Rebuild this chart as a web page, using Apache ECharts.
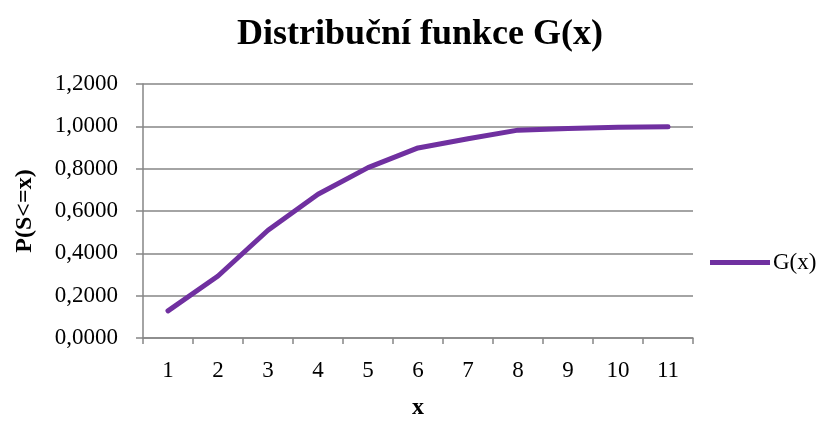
<!DOCTYPE html>
<html>
<head>
<meta charset="utf-8">
<script src="https://cdn.jsdelivr.net/npm/echarts@6/dist/echarts.min.js"></script>
<style>
  html, body { margin: 0; padding: 0; background: #fff; }
  #chart { width: 840px; height: 425px; }
</style>
</head>
<body>
<div id="chart"></div>
<script>
// Distribution function values G(x) for x = 1..11
const categories = ['1', '2', '3', '4', '5', '6', '7', '8', '9', '10', '11'];
const gValues = [0.128, 0.293, 0.509, 0.679, 0.805, 0.898, 0.941, 0.982, 0.990, 0.996, 0.998];
const seriesName = 'G(x)';
const yTicks = { min: 0, max: 1.2, interval: 0.2 };

const serif = '"Liberation Serif", "DejaVu Serif", serif';
const axisGray = '#868686';

const chart = echarts.init(document.getElementById('chart'), null, { renderer: 'canvas' });
chart.setOption({
  animation: false,
  backgroundColor: '#ffffff',
  title: {
    text: 'Distribuční funkce G(x)',
    left: 'center',
    top: 12,
    textStyle: { fontFamily: serif, fontWeight: 'bold', fontSize: 36, color: '#000' }
  },
  legend: {
    data: [{ name: seriesName, icon: 'rect' }],
    left: 705,
    top: 246,
    itemWidth: 60,
    itemHeight: 5,
    itemGap: 4,
    textStyle: { fontFamily: serif, fontSize: 23, color: '#000', padding: [0, 0, 0, -2] }
  },
  grid: { left: 143, right: 147, top: 84, bottom: 81, containLabel: false },
  xAxis: {
    type: 'category',
    data: categories,
    boundaryGap: true,
    name: 'x',
    nameLocation: 'middle',
    nameGap: 58,
    nameTextStyle: { fontFamily: serif, fontWeight: 'bold', fontSize: 24, color: '#000' },
    axisLine: { lineStyle: { color: axisGray, width: 1.5 } },
    axisTick: { show: true, alignWithLabel: false, length: 6, lineStyle: { color: axisGray, width: 1.5 } },
    axisLabel: { fontFamily: serif, fontSize: 23, color: '#000', margin: 21 },
    splitLine: { show: false }
  },
  yAxis: {
    type: 'value',
    min: yTicks.min,
    max: yTicks.max,
    interval: yTicks.interval,
    name: 'P(S<=x)',
    nameLocation: 'middle',
    nameGap: 106,
    nameTextStyle: { fontFamily: serif, fontWeight: 'bold', fontSize: 24, color: '#000' },
    axisLine: { show: true, lineStyle: { color: axisGray, width: 1.5 } },
    axisTick: { show: true, length: 7, lineStyle: { color: axisGray, width: 1.5 } },
    axisLabel: {
      fontFamily: serif, fontSize: 23, color: '#000', margin: 25,
      formatter: v => v.toFixed(4).replace('.', ',')
    },
    splitLine: { show: true, lineStyle: { color: axisGray, width: 1.5 } }
  },
  series: [{
    name: seriesName,
    type: 'line',
    data: gValues,
    showSymbol: false,
    symbol: 'none',
    itemStyle: { color: '#7030A0' },
    lineStyle: { color: '#7030A0', width: 5, cap: 'round', join: 'round' }
  }]
});
</script>
</body>
</html>
